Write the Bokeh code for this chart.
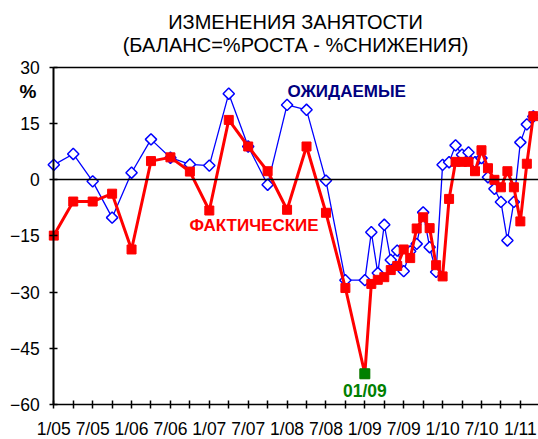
import math
from bokeh.plotting import figure
from bokeh.models import Label, FixedTicker, ColumnDataSource, Range1d, LinearAxis
from bokeh.embed import file_html
from bokeh.resources import INLINE

# ---------------- data ----------------
dates = ["01/05", "04/05", "07/05", "10/05", "01/06", "04/06", "07/06", "10/06",
         "01/07", "04/07", "07/07", "10/07", "01/08", "04/08", "07/08", "10/08",
         "01/09", "02/09", "03/09", "04/09", "05/09", "06/09", "07/09", "08/09",
         "09/09", "10/09", "11/09", "12/09",
         "01/10", "02/10", "03/10", "04/10", "05/10", "06/10", "07/10", "08/10",
         "09/10", "10/10", "11/10", "12/10",
         "01/11", "02/11", "03/11"]

actual = [-14.9, -5.8, -5.8, -3.7, -18.6, 5.0, 6.0, 2.2,
          -8.2, 16.0, 8.9, 2.3, -8.0, 8.9, -8.8, -28.9,
          -51.8, -27.8, -26.7, -26.0, -24.1, -23.0, -18.6, -20.9,
          -13.0, -10.0, -12.9, -22.8,
          -25.8, -5.1, 4.8, 4.8, 4.8, 2.3, 7.9, 3.1,
          0.0, -2.0, 2.3, -2.0,
          -11.1, 4.3, 17.0]

expected = [4.0, 6.9, -0.4, -10.1, 1.9, 10.8, 5.9, 4.1,
            3.8, 23.0, 8.9, -1.3, 20.0, 18.7, -0.2, -26.8,
            -26.8, -14.0, -24.9, -12.0, -21.4, -18.9, -24.4, -19.1,
            -17.1, -8.7, -18.0, -24.6,
            4.0, 4.7, 9.2, 6.7, 7.3, 4.7, 5.8, 0.7,
            -2.4, -5.9, -16.2, -5.9,
            10.0, 14.8, 16.9]

highlight_date = "01/09"
highlight_label = "01/09"

tick_labels = ["1/05", "7/05", "1/06", "7/06", "1/07", "7/07", "1/08",
               "7/08", "1/09", "7/09", "1/10", "7/10", "1/11"]
y_ticks = [-60, -45, -30, -15, 0, 15, 30]

title_line1 = "ИЗМЕНЕНИЯ ЗАНЯТОСТИ"
title_line2 = "(БАЛАНС=%РОСТА - %СНИЖЕНИЯ)"
label_expected = "ОЖИДАЕМЫЕ"
label_actual = "ФАКТИЧЕСКИЕ"
unit_label = "%"


def month_index(d):
    mm, yy = d.split("/")
    return (int(yy) - 5) * 12 + int(mm) - 1


xs = [month_index(d) for d in dates]
src = ColumnDataSource(data=dict(x=xs, actual=actual, expected=expected))
hi_x = month_index(highlight_date)
hi_y = actual[dates.index(highlight_date)]

FONT = "Liberation Sans"
X_END = 74.8
Y_MIN, Y_MAX = -60, 30

p = figure(width=538, height=439, output_backend="svg", toolbar_location=None,
           x_range=Range1d(-8.225, X_END), y_range=Range1d(-69.35, 47.89),
           min_border=0)
p.title.visible = False
p.outline_line_color = None
p.xgrid.grid_line_color = None
p.ygrid.grid_line_color = None
p.background_fill_color = "white"
p.border_fill_color = "white"

# expected (blue)
p.line("x", "expected", source=src, line_color="#0000FF", line_width=1.3)
p.scatter("x", "expected", source=src, marker="square", size=8, angle=math.pi / 4,
          fill_color="white", line_color="#0000FF", line_width=1.5)

# actual (red)
p.line("x", "actual", source=src, line_color="#FF0000", line_width=3)
p.scatter("x", "actual", source=src, marker="square", size=9,
          fill_color="#FF0000", line_color="#FF0000")

# highlight
p.scatter([hi_x], [hi_y], marker="square", size=10, fill_color="#008000",
          line_color="#008000")

# main axes
xax = p.xaxis[0]
yax = p.yaxis[0]
major = [i * 6 for i in range(len(tick_labels))]
minor = [m + 3 for m in major]
xax.ticker = FixedTicker(ticks=major, minor_ticks=minor)
xax.major_label_overrides = {m: t for m, t in zip(major, tick_labels)}
xax.fixed_location = Y_MIN
xax.bounds = (0, X_END)
yax.ticker = FixedTicker(ticks=y_ticks)
yax.fixed_location = 0
yax.bounds = (Y_MIN, Y_MAX)

for ax in (xax, yax):
    ax.axis_line_color = "black"
    ax.major_tick_line_color = "black"
    ax.major_tick_in = 4
    ax.major_tick_out = 4
    ax.major_tick_line_width = 1.5
    ax.major_label_text_font = FONT
    ax.major_label_text_font_size = "17.5px"
    ax.major_label_text_color = "black"
xax.axis_line_width = 1.5
yax.axis_line_width = 2
xax.minor_tick_line_color = "black"
xax.minor_tick_line_width = 1.5
xax.minor_tick_in = 4
xax.minor_tick_out = 4
yax.minor_tick_line_color = None
xax.major_label_standoff = 11
yax.major_label_standoff = 10

# plain horizontal rules (top border and zero line) as tickless axes
for loc in (Y_MAX, 0):
    rule = LinearAxis(fixed_location=loc, bounds=(0, X_END),
                      ticker=FixedTicker(ticks=[]),
                      major_tick_line_color=None, minor_tick_line_color=None,
                      major_label_text_font_size="0px",
                      axis_line_color="black", axis_line_width=1.5)
    p.add_layout(rule, "below")

# texts
def add_label(x, y, text, size, color="black", bold=False, align="center"):
    p.add_layout(Label(x=x, y=y, text=text, text_font=FONT, text_font_size=size,
                       text_color=color, text_align=align, text_baseline="middle",
                       text_font_style="bold" if bold else "normal"))

add_label(37.3, 42.15, title_line1, "20px")
add_label(37.3, 35.9, title_line2, "20px")
add_label(-4.0, 23.7, unit_label, "19px", bold=True)
add_label(45.2, 23.7, label_expected, "17px", color="#000080", bold=True)
add_label(30.9, -12.1, label_actual, "17px", color="#FF0000", bold=True)
add_label(hi_x, -56.4, highlight_label, "17.5px", color="#008000", bold=True)

open("out.html", "w").write(file_html(p, INLINE))
